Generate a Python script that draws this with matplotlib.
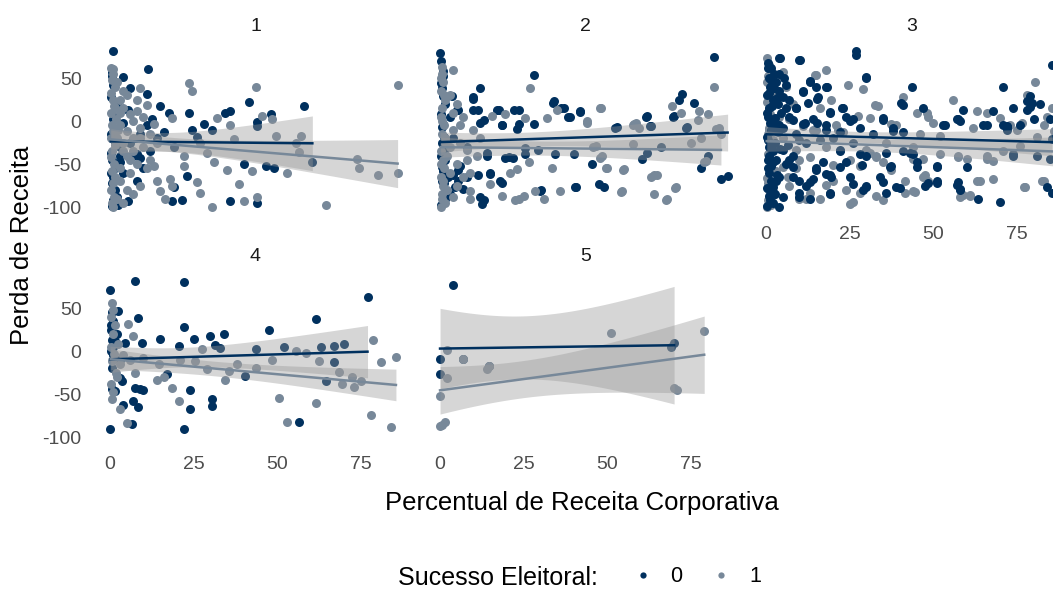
import numpy as np
import matplotlib
matplotlib.use("Agg")
import matplotlib.pyplot as plt
from matplotlib.lines import Line2D

plt.rcParams['font.family'] = ['Liberation Sans', 'DejaVu Sans']
plt.rcParams['axes.unicode_minus'] = False

# colours of "Sucesso Eleitoral" groups 0 and 1
c0 = "#00305E"
c1 = "#778899"

panels = ["1", "2", "3", "4", "5"]

# (Percentual de Receita Corporativa, Perda de Receita)
p1_g0 = [(0.5,57),(1,42),(0.3,28),(0.8,2),(0.2,-15),(1.2,-22),(0.6,-45),(0.4,-60),(1,-92),(0.5,-98),(0.8,81),(1.5,-80),
         (4,51),(11.5,61),(6,38),(11,32),(5.5,13),(15,18),(17.5,10),(12.5,3),(11,-4),(23.5,10),(28,-3),(30.5,-10),
         (24.5,-10),(34.5,9),(36,12),(41.5,22),(48,8),(44,-1),(44,-6),(58,17),(60.5,-48),(46.5,-52),(49,-55),(40,-50),
         (23,-64),(19,-77),(18.5,-93),(21.5,-92),(36,-93),(44,-95),(5.5,-93),(7,-40),(9,-43),(4,-60),(8,-69),(16,-13),
         (2,20),(4,-2),(6,-25),(8,-38),(3,-48),(9,-15),(12,-35),(2.5,-97),(14,-20),(19,-30),(26,-18),(3,-30),(10,-55),
         (1,-65),(0.5,-72),(2,-88),(1.5,-55),(3,-40),(0.7,52),(1.2,5),(0.4,-37)]
p1_g1 = [(0.3,62),(1,55),(0.5,48),(1.5,40),(0.2,33),(0.8,25),(1.2,18),(0.4,10),(1.8,3),(0.6,-5),(1,-12),(0.3,-20),
         (1.4,-28),(0.7,-35),(0.2,-42),(1.1,-50),(0.5,-58),(1.6,-65),(0.9,-72),(0.3,-80),(1.3,-88),(0.6,-95),(1,-100),
         (3,25),(5,30),(4,15),(6,8),(8,12),(3,-5),(5,-12),(7,-20),(9,-8),(10,-30),(4,-35),(6,-45),(8,-50),(11,-55),
         (3,-70),(5,-80),(2,-90),(7,-85),(12,-15),(13,-3),(10,5),(14,-25),(2,45),(3,10),(6,-60),(9,-75),(4,-95),
         (12,-45),(7,0),(2,-20),(1,61),(23.5,44),(24.5,35),(43.5,40),(86,42),(9,38),(8,25),(11,19),(18.5,4),(32,4),
         (36,-4),(45.5,6),(48.5,2),(49.5,-17),(57,-17),(55.5,-25),(56.5,-36),(74,-44),(74.5,-54),(80,-63),(86,-60),
         (64.5,-97),(53,-60),(42.5,-58),(38.5,-73),(40,-93),(44,-88),(30.5,-100),(27,-83),(26,-71),(31,-48),(35,-57),
         (14,-69),(15,-81),(16.5,-90),(18,-67),(18.5,-75),(22,-40),(22,-52),(27,-25),(37,-21),(29,-37),(13,-52),
         (2.5,-10),(4,-25),(5,-40),(3,-55),(7,-35),(9,-20),(1.5,15),(4,35)]

p2_g0 = [(0.3,70),(1,52),(0.5,38),(1.5,20),(0.2,8),(0.8,-3),(1.2,-18),(0.4,-40),(1,-58),(0.6,-70),(1.4,-82),(0.3,-97),
         (0,79),(1,58),(0.5,48),(3.5,29),(12,38),(10,28),(5,13),(10,13),(11.5,13),(17.5,13),(22,13),(23.5,13),(28,53),
         (34,23),(37,15),(39,5),(42,12),(28,-3),(23.5,-3),(18.5,-4),(12,-2),(53,-7),(62,6),(70,6),(71.5,24),(72.5,31),
         (76,21),(82,75),(74,-7),(63,-6),(60.5,-44),(62,-37),(84,-67),(86,-64),(45.5,-50),(47.5,-73),(49,-77),
         (40.5,-77),(30,-81),(18,-69),(15,-60),(11.5,-62),(12,-88),(13,-92),(14,-37),(20.5,-42),(25.5,-31),
         (34.5,-38),(40,-38),(6,-52),(4,-63),(1.5,-90),(7,-79),(4,-20),(8,-30),(3,5),
         (0.4,44),(1,29),(0.6,-7),(1.3,-34),(0.5,-53),(1.1,-72),(0.8,-92),(5.5,13),(10,26),(13,1),(16.9,13),
         (18.4,-5),(22.9,-9),(13.9,-40),(5.5,-57),(5.5,-69),(4.5,-76),(8,-65),(12.4,-96),(14.9,-61),(18.4,-72),
         (19.4,-43),(21.9,-43),(25.4,-38),(30.3,-80),(33.8,21),(36.3,15),(38.3,5),(40.8,-76),(41.8,11),(29.3,-34),
         (52.2,-8),(69.6,5),(73.6,-8),(61.7,5),(62.7,-6),(0.7,-25),(1.6,-45),(2.5,-65),(3,-85),
         (80,-40),(66,-30),(78,-55)]
p2_g1 = [(0.5,55),(1,45),(0.2,35),(1.4,25),(0.7,15),(0.3,5),(1.1,-5),(0.5,-15),(1.6,-25),(0.2,-35),(0.9,-45),
         (1.3,-55),(0.4,-65),(1,-75),(0.6,-85),(1.5,-95),(0.3,-100),(3,30),(5,20),(7,5),(4,-10),(6,-25),(8,-45),
         (3,-60),(5,-75),(9,-90),(10,-10),(12,-20),(2,-40),(7,-65),(4,10),(0.5,63),(4,59),(27,38),(48,15),(35,13),
         (32,4),(44,-2),(58,-3),(59.5,-8),(69.5,18),(77.5,12),(80,8),(82,40),(83.5,-8),(79.5,-46),(64,-63),(65,-63),
         (70.5,-77),(68,-90),(64,-85),(54.5,-81),(55,-56),(49.5,-54),(48.5,-40),(46.5,-29),(33.5,-54),(36,-81),
         (31,-90),(28.5,-81),(25,-87),(23.5,-90),(22.5,-92),(18.5,-87),(23,-56),(21,-60),(26.5,-48),(19.5,8),
         (25.5,4),(15.5,6),(15,-73),(9,-81),(8,-33),
         (0.4,50),(1.2,30),(0.7,0),(1.5,-20),(0.3,-50),(1,-70),(0.6,-90),(3,-30),(5,-50),(2,-80),(6,-5),(9,-60),
         (11,-40),(4,-88),(47.8,15),(43.8,0),(45.8,-30),(47.8,-43),(49.8,-55),(54.7,-57),(54.2,-82),(57.7,-4),
         (58.7,-2),(57.7,-26),(63.2,-65),(67.7,-92),(70.2,-78),(77.1,1),(82.6,-9),(79,-48),
         (78,-20),(75,-25),(84,-15),(72,10)]

p3_g0 = [(0.5,68),(1.5,62),(2.5,55),(0.8,50),(3,45),(1.2,40),(4,35),(0.4,30),(2,25),(3.5,20),(1,15),(4.5,10),(0.6,5),
         (2.2,0),(3.8,-5),(1.4,-10),(0.3,-18),(2.8,-25),(4.2,-32),(1,-40),(2,-48),(0.5,-55),(3.2,-62),(1.6,-70),
         (0.2,-78),(2.6,-85),(1.1,-92),(0.4,-98),(5,28),(6,15),(5.5,50),(27,81),(27,77),(10,71),(4,73),(30,51),
         (43.5,40),(71,40),(85.5,65),(18,40),(13,47),(15,40),(11,35),(15.5,28),(23,15),(19,10),(9,15),(35,4),(41,19),
         (47,15),(53.5,-4),(59,13),(57.5,2),(66,-5),(72,-6),(74,15),(79,29),(79.5,21),(78,13),(80,2),(85.5,-21),
         (74,-38),(85.5,-83),(70,-94),(63.5,-90),(58,-79),(57.5,-71),(51,-70),(51,-52),(47.5,-75),(45,-48),(43,-37),
         (41,-35),(37.5,-52),(36,-37),(30,-40),(39,-77),(35,-71),(36,-83),(30,-75),(26,-73),(24,-48),(19,-85),
         (17,-48),(19,-63),(14,-67),(10,-83),(4,-100),(8,-40),(12,-25),(22,-35),(2.5,-6),(11,-3),(14,2),(18,-10),
         (22,-13),(25,0),(28,-8),(32,-15),(38,-12),(41,-13),(7,5),(9,-15),(6,-50),(8,-65),(12,-75),(15,-55),
         (20,-20),(26,-25),(5,-88),(13,-90),
         (4.2,73),(10.1,71),(13.1,46),(18.1,40),(11.1,34),(15.1,26),(12.6,21),(9.1,15),(19.1,11),(22.6,15),(24,5),
         (30,50),(8.1,1),(11.6,-2),(15.1,-2),(18,-4),(26,3),(35,1),(38,-8),(1,-30),(5,-34),(7,-45),(4,-65),(2,-76),
         (10,-69),(8,-53),(15,-57),(18,-61),(19.5,-65),(13,-71),(19,-84),(10,-88),(22,-53),(25,-65),(28.6,-51),
         (30,-76),(29,-80),(34,-65),(37,-53),(22,-34),(28,-38),(16,-22),(10,-22),(40.5,21),(57,2),(58,0),(53,-5),
         (65,-5),(72,-7),(78,23),(79,16),(85,3),(44,-38),(45,-53),(51,-53),(57,-74),(58,-80),(48.5,-72),(51,-72),
         (40,-78),(74,-40),(81,-40),(85,-44),(84,-76),(60,-53),(71,-4),(72,-10),
         (0.5,62),(1.5,48),(2.5,38),(0.8,33),(3.2,27),(1.8,18),(0.3,10),(2.8,4),(1.3,-2),(3.5,-13),(0.7,-22),
         (2.2,-35),(1.5,-52),(3,-70),(0.9,-87),(2,-95),(4,55),(6,42),(7,25),(5,-8),(6.5,-28),(3,-45),
         (82,20),(76,-5),(68,12),(1,-60),(2,-82),(0.6,-45)]
p3_g1 = [(0.3,73),(1,65),(0.6,52),(1.8,38),(0.2,22),(1.2,8),(0.8,-8),(2,-22),(0.5,-38),(1.5,-52),(0.3,-66),(1,-80),
         (0.7,-92),(0.2,-100),(18,59),(24.5,42),(29,37),(15,53),(41,28),(56,24),(63,12),(80.5,45),(85.5,15),(83,-4),
         (70,4),(77,-77),(83,-69),(68,-67),(64,-69),(61,-87),(58,-88),(57.5,-40),(60,-44),(66,-40),(68,-46),(71,-35),
         (76,-29),(52,-38),(47.5,-63),(41.5,-69),(44,-81),(33,-87),(35,-92),(26,-94),(28,-52),(31,-37),(33,-40),
         (16,-90),(12,-90),(10,-90),(7,-75),(23,-13),(31,4),(32.5,19),(27.5,6),(48,10),(50,-2),(46,-15),(52,-17),
         (6,40),(8,20),(5,-20),(10,-45),(14,-10),(18,-30),(3,-60),(20,-70),(24,-80),(9,-55),(4,5),(16,15),(21,-5),
         (36,-25),(44,-30),(39,-5),
         (5,57),(14.5,53),(19.5,24),(33.5,18),(37.5,-3),(11,-6),(15,-10),(7,3),(1,-10),(21.5,-10),(30,-34),(33,-42),
         (35,-47),(9,-34),(13,-42),(5,-53),(6.5,-65),(13,-84),(25,-96),(20,-51),(25,-45),(37.5,-57),(28,-84),(18,-74),
         (45,9),(48.5,5),(73,-4),(76.5,-2),(57.5,-42),(66,-44),(44,-44),(47,-44),(47,-65),(48.5,-69),(41.5,-84),
         (44.5,-82),(59,-86),(61,-86),(63,-69),(77.5,-76),(82.5,-69),(81,-18),
         (1.5,58),(0.4,45),(2.5,30),(1,15),(3,-2),(0.6,-15),(2.4,-30),(1.2,-45),(3,-58),(0.5,-72),(2,-86),(1.5,-97),
         (78,30),(84,5),(66,10),(75,-10),(86,-12),(62,-8)]

p4_g0 = [(0,71),(7.5,82),(22,80),(77,63),(61.5,37),(47.5,24),(22,28),(25,14),(30,18),(34,20),(15,14),(8.5,39),
         (9.5,10),(2.5,47),(0.5,13),(1.5,12),(4.5,10),(20.5,6),(31.5,7),(33,4),(43.5,2),(52,5),(63,5),(67,6),(70,8),
         (67,-13),(64.5,-35),(56.5,-82),(22,-90),(24,-45),(24,-67),(30.5,-55),(30.5,-64),(17,-27),(7.5,-43),(10,-45),
         (9,-44),(7,-58),(8.5,-65),(4,-63),(6.5,-85),(0,-90),(0.5,-44),(1.5,-46),(3,-31),(3.5,-35),(40.5,-29),
         (0.5,-19),(0.3,30),(1,-5),(0.5,45),(1,35),(0.3,25),(0.8,5),(1.2,-8),(0.4,0),(2,20),(3,-10)]
p4_g1 = [(0.5,56),(1,48),(0.3,40),(1.5,30),(0.8,20),(0.2,5),(1.2,-3),(0.6,-12),(1.8,-25),(0.4,-38),(1,-48),(0.5,-56),
         (5.5,31),(7,18),(78.5,13),(85.5,-7),(81,-13),(78,-74),(84,-88),(61.5,-60),(50.5,-54),(53,-82),(68.5,-24),
         (69.5,-38),(73,-42),(72.5,-30),(62.5,-12),(55.5,0),(58.5,-2),(48.5,-10),(43.5,-19),(38,-15),(34.5,-33),
         (35.5,-23),(27.5,2),(29,-21),(25.5,-12),(21,-10),(20.5,-58),(18.5,-43),(14,-33),(16,-30),(14.5,-15),(10,-8),
         (7.5,-25),(5,-83),(3,-67),(4,-5),(3,-15),(6,-10),(2,-30),(2.5,8),(75,-35)]

p5_g0 = [(4,77),(0,-9),(0,-27),(69,5),(70,10),(7,-9),(14.5,-17)]
p5_g1 = [(2,1),(7,-9),(14.5,-17),(14,-21),(2,-31),(0,-52),(0,-87),(1.5,-82),(51,21),(79,23),(70,-43),
         (0.5,-86),(71,-45)]

data = {"1": (p1_g0, p1_g1), "2": (p2_g0, p2_g1), "3": (p3_g0, p3_g1),
        "4": (p4_g0, p4_g1), "5": (p5_g0, p5_g1)}

xticks = [0, 25, 50, 75]
yticks = [-100, -50, 0, 50]


def tq975(df):
    # Cornish-Fisher approx of the t quantile (no scipy)
    z = 1.959964
    return (z + (z**3 + z) / (4 * df) + (5 * z**5 + 16 * z**3 + 3 * z) / (96 * df**2)
            + (3 * z**7 + 19 * z**5 + 17 * z**3 - 15 * z) / (384 * df**3))


def smooth(ax, pts, col):
    x = np.array([p[0] for p in pts], float)
    y = np.array([p[1] for p in pts], float)
    n = len(x)
    b, a = np.polyfit(x, y, 1)
    xs = np.linspace(x.min(), x.max(), 80)
    fit = a + b * xs
    s = np.sqrt(np.sum((y - (a + b * x))**2) / (n - 2))
    se = s * np.sqrt(1 / n + (xs - x.mean())**2 / np.sum((x - x.mean())**2))
    t = tq975(n - 2)
    ax.fill_between(xs, fit - t * se, fit + t * se, color="#999999", alpha=0.4, lw=0, zorder=3)
    ax.plot(xs, fit, color=col, lw=1.8, zorder=4)


W, H = 1053, 590
fig = plt.figure(figsize=(W / 100, H / 100), dpi=100)

lefts = [95.5, 425.5, 751.5]
tops = [44.5, 274.5]
pw, ph = 320, 170.5

for i, name in enumerate(panels):
    r, c = divmod(i, 3)
    ax = fig.add_axes([lefts[c] / W, 1 - (tops[r] + ph) / H, pw / W, ph / H])
    g0, g1 = data[name]
    order = [(g1, c1), (g0, c0)] if name == "3" else [(g0, c0), (g1, c1)]
    for pts, col in order:
        ax.scatter([p[0] for p in pts], [p[1] for p in pts], s=42, color=col, lw=0, zorder=2)
    smooth(ax, g0, c0)
    smooth(ax, g1, c1)

    ax.set_xlim(-4.35, 91.35)
    ax.set_ylim(-109, 89)
    for sp in ax.spines.values():
        sp.set_visible(False)
    ax.tick_params(length=0, labelsize=14, labelcolor="#4D4D4D")
    ax.tick_params(axis="x", pad=8)
    ax.tick_params(axis="y", pad=10)
    if name in ("3", "4", "5"):
        ax.set_xticks(xticks)
    else:
        ax.set_xticks([])
    if name in ("1", "4"):
        ax.set_yticks(yticks)
    else:
        ax.set_yticks([])
    ax.set_title(name, fontsize=14, color="#1A1A1A", pad=10)

fig.text(582 / W, 1 - 510 / H, "Percentual de Receita Corporativa", fontsize=18.5,
         ha="center", va="baseline")
fig.text(22 / W, 1 - 245 / H, "Perda de Receita", fontsize=18.5, rotation=90,
         ha="center", va="center")

fig.text(398 / W, 1 - 585 / H, "Sucesso Eleitoral:", fontsize=18, ha="left", va="baseline")
handles = [Line2D([], [], ls="", marker="o", ms=4.5, color=c0, mew=0),
           Line2D([], [], ls="", marker="o", ms=4.5, color=c1, mew=0)]
fig.legend(handles, ["0", "1"], ncol=2, frameon=False, fontsize=15.5,
           loc="center left", bbox_to_anchor=(621 / W, 1 - 577 / H),
           handletextpad=0.8, columnspacing=1.3, handlelength=1.0, borderpad=0)

fig.savefig("out.png", dpi=100)
